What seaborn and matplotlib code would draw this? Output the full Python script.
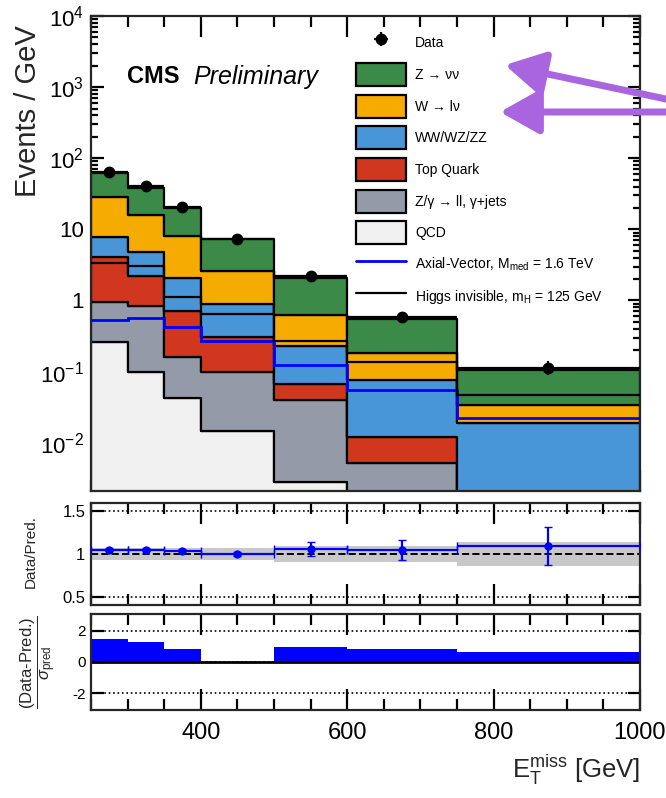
import numpy as np
import pandas as pd
import matplotlib
matplotlib.use("Agg")
import matplotlib.pyplot as plt
import seaborn as sns
from matplotlib.ticker import FixedLocator, MultipleLocator, NullFormatter, LogLocator
from matplotlib.lines import Line2D
from matplotlib.patches import Patch

# binning (MET, GeV)
edges = [250, 300, 350, 400, 500, 600, 750, 1000]

# backgrounds, events / GeV (top of the stack first)
z_nunu = [33.6, 22.7, 11.8, 4.84, 1.43, 0.372, 0.0706]
w_lnu = [20.5, 11.05, 6.03, 1.67, 0.394, 0.106, 0.0154]
diboson = [3.85, 2.55, 1.37, 0.58, 0.159, 0.0649, 0.0175]
top_quark = [3.11, 1.36, 0.541, 0.21, 0.027, 0.0069, 0.0007]
zll_gjets = [0.68, 0.74, 0.116, 0.0852, 0.0372, 0.0040, 0.0008]
qcd = [0.26, 0.10, 0.043, 0.0148, 0.0028, 0.0012, 0.0]

# signals
axial_vector = [0.53, 0.57, 0.42, 0.265, 0.125, 0.055, 0.0224]
higgs_inv = [3.4, 3.05, 1.13, 0.65, 0.27, 0.135, 0.0465]

# data
data = [65.0, 40.5, 20.6, 7.4, 2.18, 0.585, 0.114]
data_err = [1.1, 0.9, 0.65, 0.27, 0.15, 0.05, 0.025]

# ratio panel
ratio = [1.05, 1.05, 1.035, 1.0, 1.06, 1.05, 1.09]
ratio_err = [0.02, 0.02, 0.025, 0.02, 0.08, 0.115, 0.22]
band_lo = [0.935, 0.935, 0.935, 0.935, 0.91, 0.91, 0.865]
band_hi = [1.065, 1.065, 1.065, 1.065, 1.09, 1.09, 1.135]

# pull panel
pull = [1.43, 1.24, 0.80, 0.0, 0.97, 0.80, 0.65]

proc_names = ["Z → νν", "W → lν", "WW/WZ/ZZ", "Top Quark", "Z/γ → ll, γ+jets", "QCD"]
proc_vals = [z_nunu, w_lnu, diboson, top_quark, zll_gjets, qcd]
proc_colors = ["#3b8a47", "#f6ab00", "#4896d8", "#d1361f", "#959aa8", "#f0f0f0"]

centers = [(a + b) / 2 for a, b in zip(edges[:-1], edges[1:])]
halfw = [(b - a) / 2 for a, b in zip(edges[:-1], edges[1:])]

rows = []
for name, vals in zip(proc_names, proc_vals):
    for c, v in zip(centers, vals):
        rows.append({"met": c, "w": v, "proc": name})
df = pd.DataFrame(rows)

sns.set_theme(style="ticks")
plt.rcParams["font.family"] = ["Liberation Sans", "DejaVu Sans"]
plt.rcParams["mathtext.fontset"] = "custom"
plt.rcParams["mathtext.rm"] = "Liberation Sans"
plt.rcParams["mathtext.it"] = "Liberation Sans:italic"
plt.rcParams["mathtext.bf"] = "Liberation Sans:bold"
plt.rcParams["axes.linewidth"] = 1.6
plt.rcParams["text.color"] = "black"
plt.rcParams["xtick.color"] = "black"
plt.rcParams["ytick.color"] = "black"

fig = plt.figure(figsize=(6.66, 7.98), dpi=100)
ax = fig.add_axes([0.1366, 0.3847, 0.8243, 0.5952])
axr = fig.add_axes([0.1366, 0.2419, 0.8243, 0.1278], sharex=ax)
axp = fig.add_axes([0.1366, 0.1103, 0.8243, 0.1203], sharex=ax)

# stacked backgrounds
sns.histplot(data=df, x="met", weights="w", hue="proc", hue_order=proc_names,
             multiple="stack", bins=edges, element="step",
             palette=dict(zip(proc_names, proc_colors)), alpha=1,
             edgecolor="black", linewidth=1.6, legend=False, ax=ax)
ax.set_yscale("log")

ax.stairs(axial_vector, edges, baseline=None, color="blue", lw=2, zorder=4)
ax.stairs(higgs_inv, edges, baseline=None, color="black", lw=1.6, zorder=4)
eb = ax.errorbar(centers, data, xerr=halfw, yerr=data_err, fmt="o", color="black",
                 ms=7.5, lw=1.6, capsize=0, zorder=5)

ax.set_xlim(250, 1000)
ax.set_ylim(10 ** -2.68, 1e4)
ax.yaxis.set_major_locator(FixedLocator([1e-2, 1e-1, 1, 10, 1e2, 1e3, 1e4]))
ax.set_yticklabels([r"$10^{-2}$", r"$10^{-1}$", "1", "10", r"$10^{2}$", r"$10^{3}$", r"$10^{4}$"])
ax.yaxis.set_minor_locator(LogLocator(base=10, subs=np.arange(2, 10), numticks=20))
ax.yaxis.set_minor_formatter(NullFormatter())
ax.set_xlabel("")
ax.set_ylabel("Events / GeV", fontsize=21)
ax.yaxis.set_label_coords(-0.089, 0.80)

ax.text(0.066, 0.872, "CMS", transform=ax.transAxes, fontsize=17, fontweight="bold", va="center")
ax.text(0.186, 0.872, "Preliminary", transform=ax.transAxes, fontsize=18, style="italic", va="center")

handles = [eb] + [Patch(facecolor=c, edgecolor="black", lw=1.6) for c in proc_colors] + [
    Line2D([], [], color="blue", lw=2), Line2D([], [], color="black", lw=1.6)]
labels = ["Data"] + proc_names + [r"Axial-Vector, M$_{\mathrm{med}}$ = 1.6 TeV",
                                  r"Higgs invisible, m$_{\mathrm{H}}$ = 125 GeV"]
ax.legend(handles, labels, loc="upper left", bbox_to_anchor=(0.482, 0.968), frameon=False,
          fontsize=10, handlelength=3.6, handleheight=2.18, labelspacing=0.62,
          handletextpad=0.67, borderaxespad=0, borderpad=0)

# ratio panel
axr.stairs(band_hi, edges, baseline=band_lo, fill=True, color="#c8c8c8", lw=0)
axr.axhline(1, color="black", ls="--", lw=1.4)
axr.errorbar(centers, ratio, xerr=halfw, yerr=ratio_err, fmt="o", color="blue",
             ms=5, lw=1.6, capsize=3, zorder=5)
axr.set_ylim(0.41, 1.59)
axr.set_yticks([0.5, 1, 1.5])
axr.set_yticklabels(["0.5", "1", "1.5"])
axr.set_ylabel("Data/Pred.", fontsize=11)
axr.yaxis.set_label_coords(-0.0965, 0.52)
axr.yaxis.grid(True, ls=":", color="black", lw=1.2)

# pull panel
axp.stairs(pull, edges, baseline=0, fill=True, color="blue")
axp.axhline(0, color="black", lw=2)
axp.set_ylim(-3.05, 3.05)
axp.set_yticks([-2, 0, 2])
axp.set_yticklabels(["-2", "0", "2"])
axp.yaxis.grid(True, ls=":", color="black", lw=1.2)
axp.set_ylabel(r"$\dfrac{\text{(Data-Pred.)}}{\sigma_{\mathrm{pred}}}$", fontsize=12)
axp.yaxis.set_label_coords(-0.06, 0.5)
axp.set_xlabel(r"$\mathrm{E_{T}^{miss}}$ [GeV]", fontsize=18.5, loc="right", labelpad=6)

for a in (ax, axr, axp):
    a.xaxis.set_major_locator(FixedLocator([400, 600, 800, 1000]))
    a.xaxis.set_minor_locator(MultipleLocator(50))
    a.tick_params(which="both", direction="in", top=True, right=True, width=1.6)
    a.tick_params(axis="x", which="major", length=15)
    a.tick_params(axis="x", which="minor", length=8)
    a.tick_params(axis="y", which="major", length=9)
    a.tick_params(axis="y", which="minor", length=5)
ax.tick_params(axis="y", labelsize=16, pad=5)
ax.tick_params(axis="x", labelbottom=False)
axr.tick_params(axis="x", labelbottom=False)
axr.tick_params(axis="y", labelsize=12, pad=4)
axp.tick_params(axis="y", labelsize=11, pad=4)
axp.tick_params(axis="x", labelsize=17, pad=9)
axp.set_xlim(250, 1000)

# purple arrows
arrow = dict(arrowstyle="-|>,head_length=2.4,head_width=1.35", color="#a865df", lw=5,
             mutation_scale=10, shrinkA=0, shrinkB=0)
ax.annotate("", xy=(505, 733), xycoords="figure pixels", xytext=(680, 696),
            textcoords="figure pixels", arrowprops=arrow, annotation_clip=False)
ax.annotate("", xy=(500, 686), xycoords="figure pixels", xytext=(680, 686),
            textcoords="figure pixels", arrowprops=arrow, annotation_clip=False)

fig.savefig("out.png", dpi=100)
